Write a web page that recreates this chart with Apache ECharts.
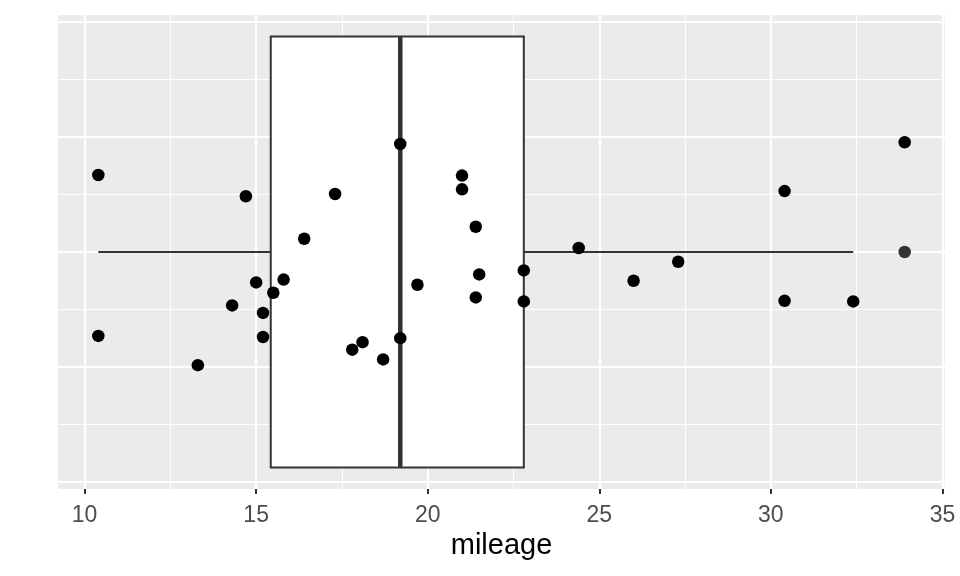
<!DOCTYPE html>
<html>
<head>
<meta charset="utf-8">
<script src="https://cdn.jsdelivr.net/npm/echarts@6/dist/echarts.min.js"></script>
<style>html,body{margin:0;padding:0;background:#fff;}#chart{width:960px;height:576px;}</style>
</head>
<body>
<div id="chart"></div>
<script>
// Data (mtcars mpg) with vertical jitter
const mileage = [10.4, 10.4, 13.3, 14.3, 14.7, 15.0, 15.2, 15.2, 15.5, 15.8, 16.4, 17.3, 17.8, 18.1, 18.7, 19.2, 19.2, 19.7, 21.0, 21.0, 21.4, 21.4, 21.5, 22.8, 22.8, 24.4, 26.0, 27.3, 30.4, 30.4, 32.4, 33.9];
const jitterY = [0.134, -0.146, -0.197, -0.093, 0.097, -0.053, -0.106, -0.148, -0.071, -0.048, 0.023, 0.101, -0.170, -0.157, -0.187, 0.188, -0.150, -0.057, 0.133, 0.109, 0.044, -0.079, -0.039, -0.032, -0.086, 0.007, -0.050, -0.017, 0.106, -0.085, -0.086, 0.191];
const xTicks = [10, 15, 20, 25, 30, 35];
const xMinor = [12.5, 17.5, 22.5, 27.5, 32.5];
const yMajor = [-0.4, -0.2, 0, 0.2, 0.4];
const yMinor = [-0.3, -0.1, 0.1, 0.3];

// boxplot statistics (R quantile type 7)
function quantile(arr, p) {
  const s = arr.slice().sort((a, b) => a - b);
  const h = (s.length - 1) * p;
  const lo = Math.floor(h);
  return s[lo] + (h - lo) * ((s[lo + 1] !== undefined ? s[lo + 1] : s[lo]) - s[lo]);
}
const q1 = quantile(mileage, 0.25), med = quantile(mileage, 0.5), q3 = quantile(mileage, 0.75);
const iqr = q3 - q1;
const inside = mileage.filter(v => v >= q1 - 1.5 * iqr && v <= q3 + 1.5 * iqr);
const wLo = Math.min(...inside), wHi = Math.max(...inside);
const outliers = mileage.filter(v => v < q1 - 1.5 * iqr || v > q3 + 1.5 * iqr);
const boxHalf = 0.375;

const chart = echarts.init(document.getElementById('chart'));
const gridLineData = []
  .concat(xTicks.map(v => ({ xAxis: v, lineStyle: { width: 2.2 } })))
  .concat(xMinor.map(v => ({ xAxis: v, lineStyle: { width: 1.1 } })))
  .concat(yMajor.map(v => ({ yAxis: v, lineStyle: { width: 2.2 } })))
  .concat(yMinor.map(v => ({ yAxis: v, lineStyle: { width: 1.1 } })));

chart.setOption({
  animation: false,
  textStyle: { fontFamily: 'Liberation Sans, Arial, sans-serif' },
  grid: { left: 58, right: 15, top: 15, bottom: 87, show: true, backgroundColor: '#EBEBEB', borderWidth: 0 },
  xAxis: {
    type: 'value', min: 9.225, max: 35.075,
    name: 'mileage', nameLocation: 'middle', nameGap: 40,
    nameTextStyle: { fontSize: 29, color: '#000000', verticalAlign: 'top' },
    axisLine: { show: false, onZero: false },
    axisTick: { show: true, customValues: xTicks, length: 5, lineStyle: { color: '#333333', width: 2 } },
    axisLabel: { customValues: xTicks, color: '#4D4D4D', fontSize: 23, margin: 15 },
    splitLine: { show: false }
  },
  yAxis: {
    type: 'value', min: -0.4125, max: 0.4125,
    axisLine: { show: false, onZero: false }, axisTick: { show: false }, axisLabel: { show: false }, splitLine: { show: false }
  },
  series: [
    {
      type: 'line', data: [], silent: true, z: 0, zlevel: 0,
      markLine: { silent: true, z: 0, symbol: ['none', 'none'], label: { show: false },
        lineStyle: { color: '#FFFFFF', type: 'solid' }, emphasis: { disabled: true },
        data: gridLineData }
    },
    {
      type: 'custom', z: 6, silent: true,
      data: [[q1, q3, med, wLo, wHi]],
      renderItem: function (params, api) {
        const a = api.value(0), b = api.value(1), m = api.value(2), lo = api.value(3), hi = api.value(4);
        const pTL = api.coord([a, boxHalf]);
        const pBR = api.coord([b, -boxHalf]);
        const pLo = api.coord([lo, 0]), pA = api.coord([a, 0]), pB = api.coord([b, 0]), pHi = api.coord([hi, 0]);
        const mT = api.coord([m, boxHalf]), mB = api.coord([m, -boxHalf]);
        const st = { stroke: '#333333', lineWidth: 2, fill: null };
        return { type: 'group', children: [
          { type: 'line', shape: { x1: pLo[0], y1: pLo[1], x2: pA[0], y2: pA[1] }, style: st },
          { type: 'line', shape: { x1: pB[0], y1: pB[1], x2: pHi[0], y2: pHi[1] }, style: st },
          { type: 'rect', shape: { x: pTL[0], y: pTL[1], width: pBR[0] - pTL[0], height: pBR[1] - pTL[1] },
            style: { fill: '#FFFFFF', stroke: '#333333', lineWidth: 2 } },
          { type: 'line', shape: { x1: mT[0], y1: mT[1], x2: mB[0], y2: mB[1] }, style: { stroke: '#333333', lineWidth: 4.5 } }
        ]};
      }
    },
    {
      type: 'scatter', z: 7, silent: true, symbolSize: 12.5,
      itemStyle: { color: '#333333', opacity: 1 },
      data: outliers.map(v => [v, 0])
    },
    {
      type: 'scatter', z: 8, silent: true, symbolSize: 12.5,
      itemStyle: { color: '#000000', opacity: 1 },
      data: mileage.map((v, i) => [v, jitterY[i]])
    }
  ]
});
</script>
</body>
</html>
